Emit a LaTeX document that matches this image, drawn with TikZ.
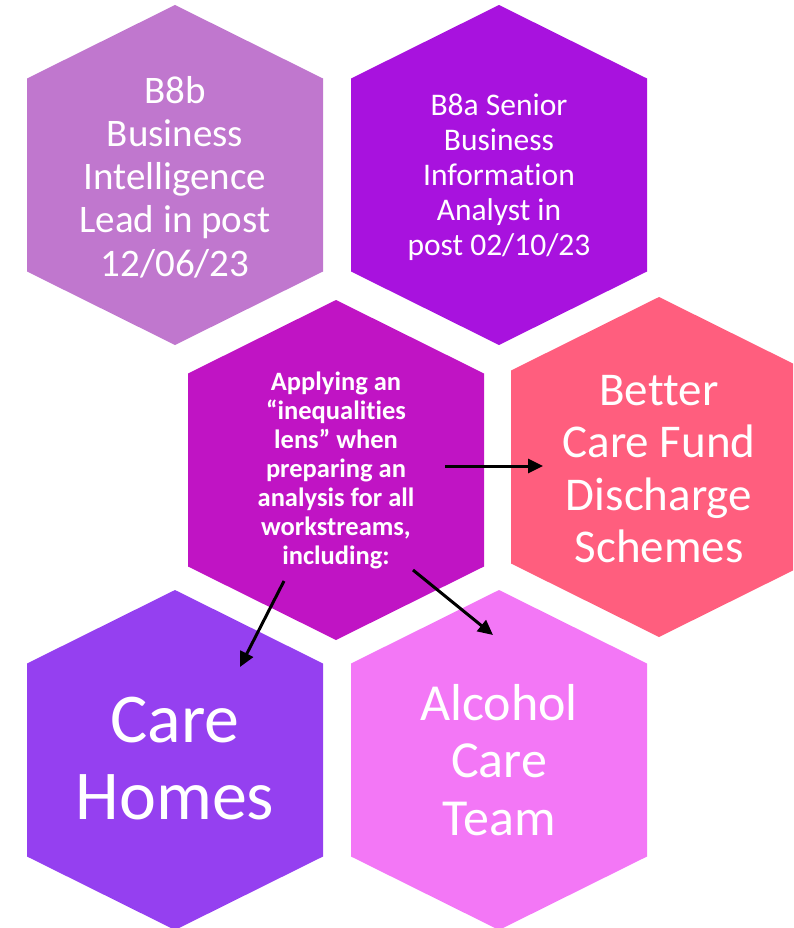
\documentclass[tikz,border=0pt]{standalone}
\usepackage{fontspec}
\setmainfont{Carlito}[RawFeature={-liga;-clig;-calt;-dlig;-rlig}]
\usetikzlibrary{arrows.meta}
\definecolor{hexA}{HTML}{C077CE}
\definecolor{hexB}{HTML}{A812DE}
\definecolor{hexC}{HTML}{C014C4}
\definecolor{hexD}{HTML}{FF5E7E}
\definecolor{hexE}{HTML}{9540F0}
\definecolor{hexF}{HTML}{F377F6}
\newcommand\hexfill[3]{\fill[#3] (#1,#2) +(0,-170) -- +(148,-96.5) -- +(148,96.5) -- +(0,170) -- +(-148,96.5) -- +(-148,-96.5) -- cycle;}
\tikzset{
  hexlabel/.style={text=white, align=center, inner sep=0pt},
  link/.style={line width=3pt, -{Triangle[length=15pt,width=14pt]}}
}
\begin{document}
\begin{tikzpicture}[x=1pt,y=-1pt]
\useasboundingbox (0,0) rectangle (793,928);
\clip (0,0) rectangle (793,928);
\hexfill{175}{175}{hexA}
\hexfill{499}{175}{hexB}
\hexfill{336}{470}{hexC}
\hexfill{659}{467}{hexD}
\hexfill{175}{760}{hexE}
\hexfill{499}{760}{hexF}
\node[hexlabel, font=\fontsize{39}{43.2}\selectfont] (b8b) at (175,177) {B8b\\Business\\Intelligence\\Lead in post\\12/06/23};
\node[hexlabel, font=\fontsize{31.5}{35}\selectfont] (b8a) at (499,177) {B8a Senior\\Business\\Information\\Analyst in\\post 02/10/23};
\node[hexlabel, font=\bfseries\fontsize{26.5}{29}\selectfont] (lens) at (336,470) {Applying an\\“inequali\kern0pt ties\\lens” when\\preparing an\\analysis for all\\workstreams,\\including:};
\node[hexlabel, font=\fontsize{47}{52.3}\selectfont] (bcf) at (659,469) {Bet\kern0pt ter\\Care Fund\\Discharge\\Schemes};
\node[hexlabel, font=\fontsize{70}{77}\selectfont] (homes) at (175,759) {Care\\Homes};
\node[hexlabel, font=\fontsize{52}{57.5}\selectfont] (alcohol) at (499,760) {Alcohol\\Care\\Team};
\coordinate (s1) at (445,466);
\coordinate (t1) at (543,466);
\coordinate (s2) at (284,581);
\coordinate (t2) at (240,667);
\coordinate (s3) at (413,570);
\coordinate (t3) at (493,635);
\draw[link] (s1) -- (t1);
\draw[link] (s2) -- (t2);
\draw[link] (s3) -- (t3);
\end{tikzpicture}
\end{document}
